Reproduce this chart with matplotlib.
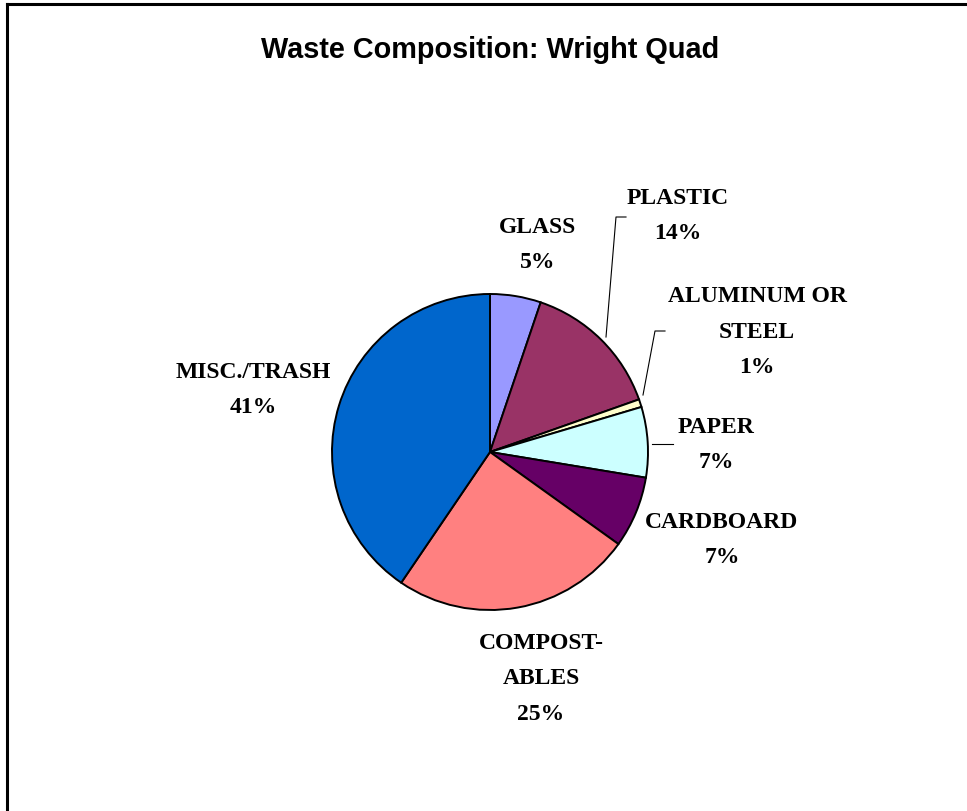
import matplotlib.pyplot as plt
import numpy as np

# slice data, clockwise from 12 o'clock
categories = ["GLASS", "PLASTIC", "ALUMINUM OR\nSTEEL", "PAPER",
              "CARDBOARD", "COMPOST-\nABLES", "MISC./TRASH"]
shares = [5.2, 14.4, 0.8, 7.2, 7.3, 24.6, 40.5]
pct_labels = ["5%", "14%", "1%", "7%", "7%", "25%", "41%"]
colors = ["#9999FF", "#993366", "#FFFFCC", "#CCFFFF",
          "#660066", "#FF8080", "#0066CC"]

W, H = 967, 811
CX, CY, R = 490, 452, 158  # pie centre / radius in pixels

fig = plt.figure(figsize=(W / 100, H / 100), dpi=100)
fig.patch.set_facecolor("white")

# pixel -> data helper (pie radius = 1 unit)
def px(x, y):
    return (x - CX) / R, (CY - y) / R

ax = fig.add_axes([(CX - 2 * R) / W, (H - CY - 2 * R) / H, 4 * R / W, 4 * R / H])
ax.pie(shares, colors=colors, startangle=90, counterclock=False,
       wedgeprops=dict(edgecolor="black", linewidth=1.4))
ax.set_xlim(-2, 2)
ax.set_ylim(-2, 2)
ax.set_aspect("equal")
ax.axis("off")

# label centres in pixels
label_pos = [(538, 245), (678, 216), (757, 332), (716, 445),
             (722, 540), (541, 679), (253, 390)]
font = dict(family="Liberation Serif", weight="bold", fontsize=17,
            ha="center", va="center", linespacing=1.9)
for name, pct, (lx, ly) in zip(categories, pct_labels, label_pos):
    x, y = px(lx, ly)
    ax.text(x, y, name + "\n" + pct, clip_on=False, **font)

# leader lines
leaders = [[(606, 337), (616, 217), (626, 217)],
           [(643, 395), (655, 331), (665, 331)],
           [(652, 444), (673, 444)]]
for pts in leaders:
    xs, ys = zip(*[px(a, b) for a, b in pts])
    ax.plot(xs, ys, color="black", linewidth=0.8, clip_on=False)

fig.text(CX / W, 1 - 50 / H, "Waste Composition: Wright Quad",
         family="Liberation Sans", weight="bold", fontsize=20.8,
         ha="center", va="center")

# chart frame (right/bottom edges lie outside the image)
fig.add_artist(plt.Line2D([7 / W, 7 / W], [0, 1 - 4 / H], color="black",
                          linewidth=2.2, transform=fig.transFigure))
fig.add_artist(plt.Line2D([7 / W, 1], [1 - 4 / H, 1 - 4 / H], color="black",
                          linewidth=2.2, transform=fig.transFigure))

fig.savefig("out.png", dpi=100)
